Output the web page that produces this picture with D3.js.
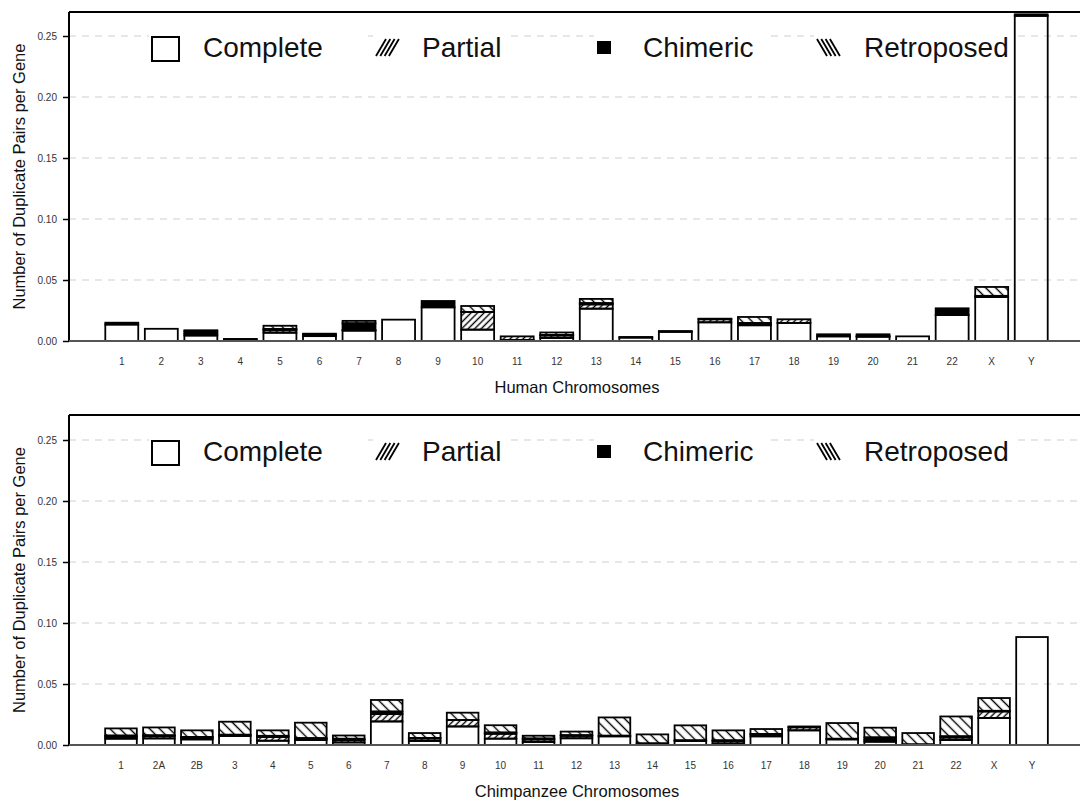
<!DOCTYPE html>
<html><head><meta charset="utf-8">
<script src="https://cdn.jsdelivr.net/npm/d3@7"></script>
<style>body{margin:0;background:#fff}svg{display:block;font-family:"Liberation Sans",Arial,sans-serif}</style>
</head><body><svg id="c" width="1080" height="804"></svg>
<script>
const humanCats = ["1","2","3","4","5","6","7","8","9","10","11","12","13","14","15","16","17","18","19","20","21","22","X","Y"];
const humanComplete   = [0.0135,0.010,0.0045,0.0005,0.0068,0.004,0.0085,0.0175,0.0276,0.0093,0.0008,0.0025,0.0265,0.0028,0.0075,0.0153,0.0129,0.0148,0.0038,0.0035,0.0038,0.0213,0.036,0.2665];
const humanPartial    = [0,0,0.0015,0,0.002,0.001,0.0005,0,0,0.0145,0.003,0.002,0.0035,0,0,0.0025,0.001,0.003,0,0.0005,0,0,0.001,0];
const humanChimeric   = [0.0015,0,0.002,0.0012,0.001,0.001,0.0055,0,0.0052,0,0,0.0005,0.001,0.0005,0.0007,0.0005,0.0008,0,0.0017,0.0015,0,0.0055,0,0.0013];
const humanRetroposed = [0,0,0.0008,0,0.0027,0,0.002,0,0,0.0049,0,0.002,0.0035,0,0,0,0.005,0,0,0,0,0,0.0073,0];

const chimpCats = ["1","2A","2B","3","4","5","6","7","8","9","10","11","12","13","14","15","16","17","18","19","20","21","22","X","Y"];
const chimpComplete   = [0.0052,0.0054,0.0046,0.0074,0.0035,0.0041,0.0021,0.0193,0.0033,0.0152,0.0052,0.0025,0.0055,0.0071,0.0013,0.0033,0.0013,0.0071,0.012,0.0046,0.0027,0.0005,0.0041,0.0221,0.0885];
const chimpPartial    = [0.0015,0.002,0.0015,0.001,0.003,0.001,0.002,0.0061,0.002,0.0053,0.004,0.002,0.002,0.0005,0,0.0005,0.002,0.0015,0.0025,0.0005,0.0015,0,0.002,0.0054,0];
const chimpChimeric   = [0.001,0.0005,0.0005,0,0.001,0.0005,0.001,0.002,0.0005,0,0.001,0.0008,0.0005,0,0,0,0.0005,0.0005,0.0007,0,0.002,0,0.001,0.0005,0];
const chimpRetroposed = [0.0059,0.0065,0.0054,0.0107,0.0045,0.0127,0.0027,0.0095,0.004,0.006,0.006,0.0023,0.003,0.015,0.0074,0.0123,0.0082,0.004,0,0.0129,0.008,0.0093,0.0163,0.0105,0];

const yTicks = [0,0.05,0.10,0.15,0.20,0.25];
const seriesNames = ["Complete","Partial","Chimeric","Retroposed"];
const yTitle = "Number of Duplicate Pairs per Gene";

const svg = d3.select("#c");
const defs = svg.append("defs");
function hatch(id, angle, w, sw){
  const p = defs.append("pattern").attr("id",id).attr("patternUnits","userSpaceOnUse")
    .attr("width",w).attr("height",w).attr("patternTransform",`rotate(${angle})`);
  p.append("line").attr("x1",w/2).attr("x2",w/2).attr("y1",-1).attr("y2",w+1)
    .attr("stroke","#000").attr("stroke-width",sw);
}
hatch("hp",45,4.6,1.4);
hatch("hr",-45,7,1.4);
const fills = {Complete:"none",Partial:"url(#hp)",Chimeric:"#000",Retroposed:"url(#hr)"};

function panel(cfg){
  const {cats, series, top, base, xTitle} = cfg;
  const left = 69, right = 1082;
  const y = d3.scaleLinear().domain([0,0.25]).range([base, base-305]);
  const x = d3.scaleBand().domain(cats).range([102,1051]).paddingInner(0.2/1.2).paddingOuter(0.1/1.2);
  const g = svg.append("g");
  // grid
  g.selectAll(".grid").data(yTicks).join("line")
    .attr("x1",left).attr("x2",right).attr("y1",d=>y(d)).attr("y2",d=>y(d))
    .attr("stroke","#cfcfcf").attr("stroke-width",1).attr("stroke-dasharray","7,6");
  // legend
  const lx = [152,376,597,817], tx = [203,422,643,864], tend=[362,506,770,1012];
  const ly = y(0.25);
  seriesNames.forEach((s,i)=>{
    g.append("rect").attr("x",lx[i]-3).attr("y",ly-2).attr("width",tend[i]-lx[i]+3).attr("height",30).attr("fill","#fff");
    if(s==="Complete") g.append("rect").attr("x",lx[i]).attr("y",ly+1).attr("width",27).attr("height",24).attr("fill","none").attr("stroke","#000").attr("stroke-width",2);
    if(s==="Chimeric") g.append("rect").attr("x",lx[i]).attr("y",ly+5).attr("width",14).attr("height",13).attr("fill","#000");
    if(s==="Partial"||s==="Retroposed"){
      const k=[0,1,2,3];
      g.append("g").selectAll("line").data(k).join("line")
        .attr("x1",d=>lx[i]+d*4.3+(s==="Partial"?0:10)).attr("y1",ly+20)
        .attr("x2",d=>lx[i]+d*4.3+(s==="Partial"?10:0)).attr("y2",ly+3)
        .attr("stroke","#000").attr("stroke-width",1.8);
    }
    g.append("text").attr("x",tx[i]).attr("y",ly+21).attr("font-size",28).attr("fill","#111").text(s);
  });
  // stacked bars
  const rows = cats.map((c,i)=>{const r={cat:c}; seriesNames.forEach((s,k)=>r[s]=series[k][i]); return r;});
  const stack = d3.stack().keys(seriesNames)(rows);
  stack.forEach(layer=>{
    g.append("g").selectAll("rect").data(layer.filter(d=>d[1]-d[0]>0)).join("rect")
      .attr("x",d=>x(d.data.cat)).attr("width",x.bandwidth())
      .attr("y",d=>y(d[1])).attr("height",d=>y(d[0])-y(d[1]))
      .attr("fill",fills[layer.key]).attr("stroke","#000").attr("stroke-width",1.8);
  });
  // frame
  g.append("line").attr("x1",left).attr("x2",right).attr("y1",top).attr("y2",top).attr("stroke","#000").attr("stroke-width",2);
  g.append("line").attr("x1",left).attr("x2",left).attr("y1",top).attr("y2",base).attr("stroke","#000").attr("stroke-width",2);
  g.append("line").attr("x1",left).attr("x2",right).attr("y1",base).attr("y2",base).attr("stroke","#555").attr("stroke-width",2);
  // y axis
  const ya = g.append("g").attr("transform",`translate(${left},0)`)
    .call(d3.axisLeft(y).tickValues(yTicks).tickFormat(d3.format(".2f")).tickSize(6).tickPadding(6));
  ya.select(".domain").remove();
  ya.selectAll("line").attr("stroke","#000").attr("stroke-width",1.5);
  ya.selectAll("text").attr("font-size",10).attr("fill","#333").attr("font-family","Liberation Sans, Arial, sans-serif");
  // x axis labels
  const xa = g.append("g").attr("transform",`translate(0,${base})`)
    .call(d3.axisBottom(x).tickSize(0).tickPadding(17));
  xa.select(".domain").remove();
  xa.selectAll("text").attr("font-size",10).attr("fill","#333").attr("font-family","Liberation Sans, Arial, sans-serif");
  g.append("text").attr("x",577).attr("y",base+52).attr("text-anchor","middle").attr("font-size",16.5).attr("fill","#111").text(xTitle);
  g.append("text").attr("transform",`translate(25,${(top+base)/2}) rotate(-90)`).attr("text-anchor","middle")
    .attr("font-size",16.5).attr("fill","#111").text(yTitle);
}
panel({cats:humanCats, series:[humanComplete,humanPartial,humanChimeric,humanRetroposed], top:12, base:341, xTitle:"Human Chromosomes"});
panel({cats:chimpCats, series:[chimpComplete,chimpPartial,chimpChimeric,chimpRetroposed], top:415, base:745, xTitle:"Chimpanzee Chromosomes"});
</script></body></html>
